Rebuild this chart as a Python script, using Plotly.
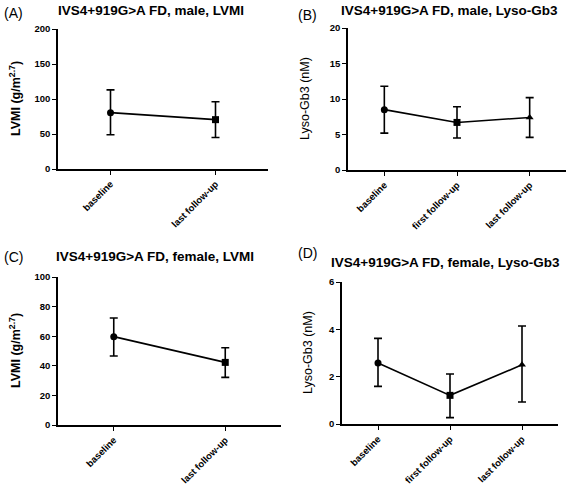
import plotly.graph_objects as go

W, H = 567, 492

# ---- data ----
cats2 = ["baseline", "last follow-up"]
cats3 = ["baseline", "first follow-up", "last follow-up"]

a_mean = [80.5, 70.5]
a_upper = [113, 96]
a_lower = [49, 45]

b_mean = [8.5, 6.7, 7.4]
b_upper = [11.8, 8.9, 10.2]
b_lower = [5.2, 4.5, 4.6]

c_mean = [59.7, 42.3]
c_upper = [72.3, 52.2]
c_lower = [46.6, 32.2]

d_mean = [2.58, 1.21, 2.50]
d_upper = [3.62, 2.11, 4.14]
d_lower = [1.59, 0.27, 0.93]

titles = ["IVS4+919G>A FD, male, LVMI", "IVS4+919G>A FD, male, Lyso-Gb3",
          "IVS4+919G>A FD, female, LVMI", "IVS4+919G>A FD, female, Lyso-Gb3"]
panel_labels = ["(A)", "(B)", "(C)", "(D)"]
ytitles = ["<b>LVMI (g/m<sup>2.7</sup>)</b>", "Lyso-Gb3 (nM)",
           "<b>LVMI (g/m<sup>2.7</sup>)</b>", "Lyso-Gb3 (nM)"]
yranges = [(0, 200, 50), (0, 20, 5), (0, 100, 20), (0, 6, 2)]

FONT = "Liberation Sans, Arial, sans-serif"

# pixel layout of each panel: x0, x1, ytop, ybottom
boxes = [(58, 268, 29, 169), (348, 566, 28, 170), (58, 281, 277, 425), (342, 558, 282, 424)]
title_pos = [(151, 11), (449, 11), (155, 256), (445, 262)]
label_pos = [(2, 13), (296, 15), (2, 257), (296, 253)]
ytitle_x = [15, 305, 15, 308]

panels = [
    (cats2, a_mean, a_upper, a_lower),
    (cats3, b_mean, b_upper, b_lower),
    (cats2, c_mean, c_upper, c_lower),
    (cats3, d_mean, d_upper, d_lower),
]
symbols = ["circle", "square", "triangle-up"]

fig = go.Figure()
annotations = []
for i, (cats, m, up, lo) in enumerate(panels):
    n = str(i + 1) if i > 0 else ""
    xa, ya = "x" + n, "y" + n
    syms = symbols[:len(cats)] if len(cats) == 3 else ["circle", "square"]
    fig.add_trace(go.Scatter(
        x=cats, y=m, mode="lines+markers", xaxis=xa, yaxis=ya,
        line=dict(color="black", width=1.6),
        marker=dict(color="black", size=7, symbol=syms),
        error_y=dict(type="data", symmetric=False,
                     array=[u - v for u, v in zip(up, m)],
                     arrayminus=[v - l for v, l in zip(m, lo)],
                     color="black", thickness=1.6, width=4),
        showlegend=False, cliponaxis=False,
    ))
    x0, x1, yt, yb = boxes[i]
    r0, r1, dt = yranges[i]
    axis_common = dict(showline=True, linecolor="black", linewidth=1.6,
                       ticks="outside", ticklen=4, tickwidth=1.4, tickcolor="black",
                       showgrid=False, zeroline=False, automargin=False,
                       tickfont=dict(family=FONT, size=9.5, color="black", weight="bold"))
    fig.update_layout(**{
        ("xaxis" + n): dict(domain=[x0 / W, x1 / W], anchor=ya, type="category",
                            categoryorder="array", categoryarray=cats,
                            range=[-0.5, len(cats) - 0.5], tickangle=-45,
                            **axis_common),
        ("yaxis" + n): dict(domain=[1 - yb / H, 1 - yt / H], anchor=xa,
                            range=[r0, r1], dtick=dt, tick0=0, **axis_common),
    })
    tx, ty = title_pos[i]
    annotations.append(dict(text="<b>" + titles[i] + "</b>", x=tx / W, y=1 - ty / H,
                            xref="paper", yref="paper", showarrow=False,
                            xanchor="center", yanchor="middle",
                            font=dict(family=FONT, size=13.5, color="black")))
    lx, ly = label_pos[i]
    annotations.append(dict(text=panel_labels[i], x=lx / W, y=1 - ly / H,
                            xref="paper", yref="paper", showarrow=False,
                            xanchor="left", yanchor="middle",
                            font=dict(family=FONT, size=14, color="black")))
    annotations.append(dict(text=ytitles[i], x=ytitle_x[i] / W, y=1 - (yt + yb) / 2 / H,
                            xref="paper", yref="paper", showarrow=False, textangle=-90,
                            xanchor="center", yanchor="middle",
                            font=dict(family=FONT, size=12.5, color="black")))

fig.update_layout(width=W, height=H, margin=dict(l=0, r=0, t=0, b=0),
                  paper_bgcolor="white", plot_bgcolor="white",
                  annotations=annotations)
fig.write_html("out.html", config={"displayModeBar": False},
               post_script="document.body.style.margin='0';document.body.style.overflow='hidden';")
